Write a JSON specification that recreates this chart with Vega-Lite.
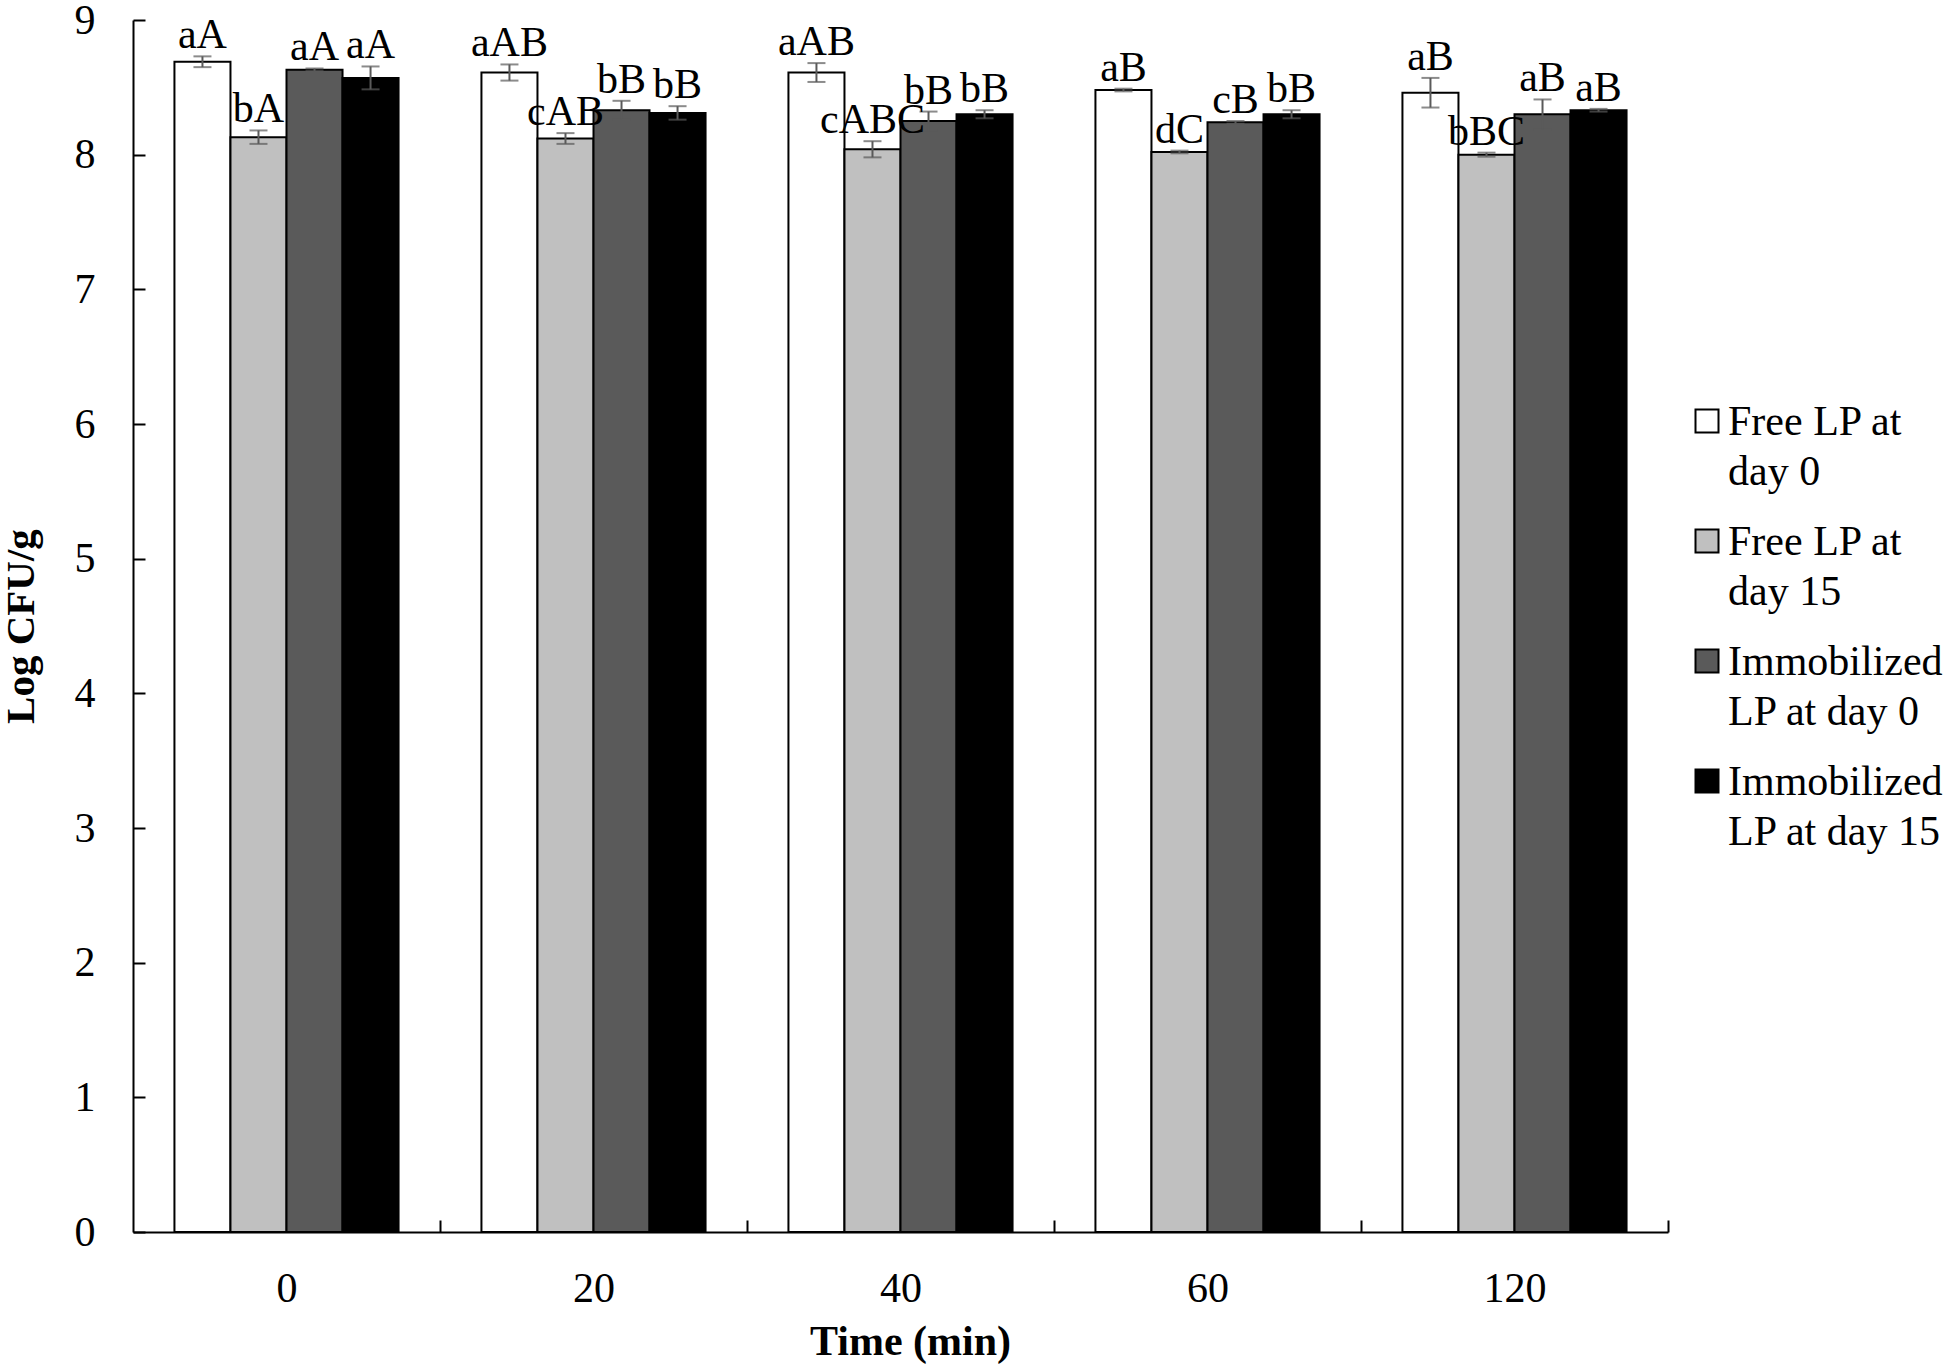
{
  "$schema": "https://vega.github.io/schema/vega-lite/v6.json",
  "width": 1535,
  "height": 1212,
  "autosize": "none",
  "padding": {"left": 133, "top": 20, "right": 278, "bottom": 135},
  "background": "white",
  "config": {
    "view": {"stroke": null},
    "font": "Liberation Serif",
    "axis": {"labelFont": "Liberation Serif", "titleFont": "Liberation Serif", "labelColor": "black", "titleColor": "black", "domainColor": "black", "tickColor": "black", "domainWidth": 2, "tickWidth": 2, "grid": false, "zindex": 1}
  },
  "data": {
    "values": [
      {"time": "0", "series": "Free LP at day 0", "mean": 8.69, "lo": 8.65, "hi": 8.73, "label": "aA"},
      {"time": "0", "series": "Free LP at day 15", "mean": 8.13, "lo": 8.08, "hi": 8.18, "label": "bA"},
      {"time": "0", "series": "Immobilized LP at day 0", "mean": 8.63, "lo": 8.62, "hi": 8.64, "label": "aA"},
      {"time": "0", "series": "Immobilized LP at day 15", "mean": 8.57, "lo": 8.485, "hi": 8.655, "label": "aA"},
      {"time": "20", "series": "Free LP at day 0", "mean": 8.61, "lo": 8.55, "hi": 8.67, "label": "aAB"},
      {"time": "20", "series": "Free LP at day 15", "mean": 8.12, "lo": 8.08, "hi": 8.16, "label": "cAB"},
      {"time": "20", "series": "Immobilized LP at day 0", "mean": 8.33, "lo": 8.26, "hi": 8.4, "label": "bB"},
      {"time": "20", "series": "Immobilized LP at day 15", "mean": 8.31, "lo": 8.26, "hi": 8.36, "label": "bB"},
      {"time": "40", "series": "Free LP at day 0", "mean": 8.61, "lo": 8.54, "hi": 8.68, "label": "aAB"},
      {"time": "40", "series": "Free LP at day 15", "mean": 8.04, "lo": 7.98, "hi": 8.1, "label": "cABC"},
      {"time": "40", "series": "Immobilized LP at day 0", "mean": 8.25, "lo": 8.18, "hi": 8.32, "label": "bB"},
      {"time": "40", "series": "Immobilized LP at day 15", "mean": 8.3, "lo": 8.27, "hi": 8.33, "label": "bB"},
      {"time": "60", "series": "Free LP at day 0", "mean": 8.48, "lo": 8.47, "hi": 8.49, "label": "aB"},
      {"time": "60", "series": "Free LP at day 15", "mean": 8.02, "lo": 8.01, "hi": 8.03, "label": "dC"},
      {"time": "60", "series": "Immobilized LP at day 0", "mean": 8.24, "lo": 8.23, "hi": 8.25, "label": "cB"},
      {"time": "60", "series": "Immobilized LP at day 15", "mean": 8.3, "lo": 8.27, "hi": 8.33, "label": "bB"},
      {"time": "120", "series": "Free LP at day 0", "mean": 8.46, "lo": 8.35, "hi": 8.57, "label": "aB"},
      {"time": "120", "series": "Free LP at day 15", "mean": 8.0, "lo": 7.985, "hi": 8.015, "label": "bBC"},
      {"time": "120", "series": "Immobilized LP at day 0", "mean": 8.3, "lo": 8.19, "hi": 8.41, "label": "aB"},
      {"time": "120", "series": "Immobilized LP at day 15", "mean": 8.33, "lo": 8.32, "hi": 8.34, "label": "aB"}
    ]
  },
  "encoding": {
    "x": {
      "field": "time", "type": "nominal", "sort": ["0", "20", "40", "60", "120"],
      "scale": {"paddingInner": 0.27, "paddingOuter": 0.135},
      "axis": {"title": "Time (min)", "labelAngle": 0, "labelFontSize": 42, "titleFontSize": 42, "titleFontWeight": "bold", "tickBand": "center", "tickOffset": 153.5, "labelOffset": -153.5, "tickSize": -12, "labelPadding": 48, "titleX": 777, "titleY": 122, "titleBaseline": "alphabetic"}
    },
    "xOffset": {"field": "series", "type": "nominal", "sort": ["Free LP at day 0", "Free LP at day 15", "Immobilized LP at day 0", "Immobilized LP at day 15"], "scale": {"paddingInner": 0, "paddingOuter": 0}}
  },
  "layer": [
    {
      "mark": {"type": "bar", "stroke": "black", "strokeWidth": 2},
      "encoding": {
        "y": {"field": "mean", "type": "quantitative", "scale": {"domain": [0, 9], "nice": false},
          "axis": {"title": "Log CFU/g", "values": [0, 1, 2, 3, 4, 5, 6, 7, 8, 9], "format": "d", "labelFontSize": 42, "titleFontSize": 41, "titleFontWeight": "bold", "tickSize": -12, "labelPadding": 50, "titleX": -100, "titleBaseline": "alphabetic"}},
        "color": {
          "field": "series", "type": "nominal",
          "scale": {"domain": ["Free LP at day 0", "Free LP at day 15", "Immobilized LP at day 0", "Immobilized LP at day 15"], "range": ["#ffffff", "#c0c0c0", "#5a5a5a", "#000000"]},
          "legend": {
            "title": null, "orient": "none", "legendX": 1553, "legendY": 380, "padding": 0,
            "symbolType": "square", "symbolSize": 529, "symbolStrokeColor": "black", "symbolStrokeWidth": 2, "symbolOpacity": 1,
            "labelFont": "Liberation Serif", "labelFontSize": 42, "labelColor": "black", "labelLimit": 600, "labelOffset": 0,
            "labelBaseline": "top", "rowPadding": 27,
            "labelExpr": "datum.label == 'Free LP at day 0' ? ['Free LP at', 'day 0'] : datum.label == 'Free LP at day 15' ? ['Free LP at', 'day 15'] : datum.label == 'Immobilized LP at day 0' ? ['Immobilized', 'LP at day 0'] : ['Immobilized', 'LP at day 15']",
            "encode": {"labels": {"update": {"dy": {"value": -19}, "lineHeight": {"value": 50}}}}
          }
        }
      }
    },
    {
      "mark": {"type": "rule", "color": "#5a5a5a", "strokeWidth": 2},
      "encoding": {"y": {"field": "lo", "type": "quantitative"}, "y2": {"field": "hi"}}
    },
    {
      "mark": {"type": "tick", "color": "#5a5a5a", "size": 18, "thickness": 2},
      "encoding": {"y": {"field": "lo", "type": "quantitative"}}
    },
    {
      "mark": {"type": "tick", "color": "#5a5a5a", "size": 18, "thickness": 2},
      "encoding": {"y": {"field": "hi", "type": "quantitative"}}
    },
    {
      "mark": {"type": "text", "font": "Liberation Serif", "fontSize": 42, "color": "black", "baseline": "alphabetic", "dy": -8},
      "encoding": {"y": {"field": "hi", "type": "quantitative"}, "text": {"field": "label"}}
    }
  ]
}
